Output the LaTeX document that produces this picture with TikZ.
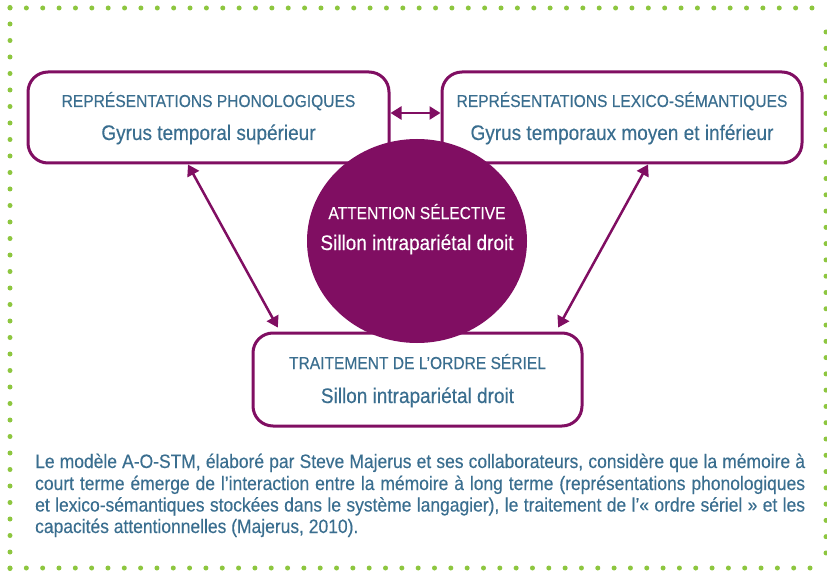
\documentclass[tikz,border=0pt]{standalone}
\usepackage{fontspec}
\setmainfont{Liberation Sans}[BoldFont={Liberation Sans},BoldFeatures={FakeBold=0.35}]
\usetikzlibrary{arrows.meta,shapes.geometric}
\definecolor{purp}{RGB}{128,14,98}
\definecolor{txtb}{RGB}{58,110,143}
\definecolor{dotg}{RGB}{141,198,63}
\newcommand{\nx}[1]{\scalebox{0.9}[1]{#1}}
\begin{document}
\begin{tikzpicture}[x=1pt,y=-1pt,
  boxst/.style={draw=purp, line width=3pt, rounded corners=20pt, fill=white, inner sep=0pt},
  hdtxt/.style={text=txtb, font=\fontsize{17.3}{20}\selectfont\bfseries, inner sep=0pt, anchor=base},
  subtxt/.style={text=txtb, font=\fontsize{21.1}{24}\selectfont\bfseries, inner sep=0pt, anchor=base},
  captxt/.style={text=txtb, font=\fontsize{19.4}{22}\selectfont\bfseries, inner sep=0pt, anchor=base west},
  arrst/.style={draw=purp, line width=2.5pt, {Triangle[length=11pt,width=13pt]}-{Triangle[length=11pt,width=13pt]}},
  dotfill/.style={fill=dotg}]
\useasboundingbox (0,0) rectangle (827,572);
% dotted frame
\foreach \i in {0,...,49} \fill[dotfill] (10+\i*16.367,8) circle (2.5pt);
\foreach \i in {0,...,34} \fill[dotfill] (10,7.5+\i*16.5) circle (2.5pt);
\foreach \i in {0,...,32} \fill[dotfill] (826,32+\i*16.28) circle (2.5pt);
\foreach \i in {0,...,49} \fill[dotfill] (10+\i*16.327,568) circle (2.5pt);
% boxes
\node[boxst, minimum width=361pt, minimum height=91pt] (b1) at (208.5,117.5) {};
\node[boxst, minimum width=360pt, minimum height=91pt] (b2) at (622,117.5) {};
\node[boxst, minimum width=329pt, minimum height=93pt] (b3) at (417.5,379.5) {};
% attention ellipse
\node[ellipse, fill=purp, minimum width=220pt, minimum height=204pt, inner sep=0pt] (att) at (417,241) {};
% texts
\node[hdtxt] (b1h) at (208.5,107) {\nx{REPRÉSENTATIONS PHONOLOGIQUES}};
\node[subtxt] (b1s) at (208.5,140) {\nx{Gyrus temporal supérieur}};
\node[hdtxt] (b2h) at (622,107) {\nx{REPRÉSENTATIONS LEXICO-SÉMANTIQUES}};
\node[subtxt] (b2s) at (622,140) {\nx{Gyrus temporaux moyen et inférieur}};
\node[hdtxt] (b3h) at (417.5,369) {\nx{TRAITEMENT DE L’ORDRE SÉRIEL}};
\node[subtxt] (b3s) at (417.5,403) {\nx{Sillon intrapariétal droit}};
\node[hdtxt, text=white] (ath) at (417,219) {\nx{ATTENTION SÉLECTIVE}};
\node[subtxt, text=white] (ats) at (417,250) {\nx{Sillon intrapariétal droit}};
% arrows
\draw[arrst] (b1.east |- 0,113) -- (b2.west |- 0,113);
\draw[arrst, shorten >=4.5pt] (b1.south -| 188,0) -- (b3.north -| 280,0);
\draw[arrst, shorten >=4.5pt] (b2.south -| 648,0) -- (b3.north -| 556,0);
% caption
\node[captxt] (c1) at (35,468) {\nx{\makebox[855.5pt][s]{Le modèle A-O-STM, élaboré par Steve Majerus et ses collaborateurs, considère que la mémoire à}}};
\node[captxt] (c2) at (35,490) {\nx{\makebox[855.5pt][s]{court terme émerge de l’interaction entre la mémoire à long terme (représentations phonologiques}}};
\node[captxt] (c3) at (35,511.5) {\nx{\makebox[855.5pt][s]{et lexico-sémantiques stockées dans le système langagier), le traitement de l’« ordre sériel » et les}}};
\node[captxt] (c4) at (35,533) {\nx{capacités attentionnelles (Majerus, 2010).}};
\end{tikzpicture}
\end{document}
